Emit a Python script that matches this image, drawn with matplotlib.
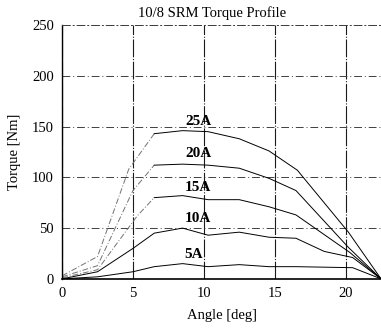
import matplotlib
matplotlib.use('Agg')
import matplotlib.pyplot as plt

x_25 = [0, 2.5, 4.7, 6.5, 8.5, 10.3, 12.5, 14.6, 16.6, 20.2, 22.5]
t_25 = [3, 22, 108, 143, 146, 145, 138, 126, 107, 46, 0]
x_20 = [0, 2.5, 5.0, 6.5, 8.5, 10.3, 12.5, 14.6, 16.5, 20.2, 22.5]
t_20 = [2, 13, 87, 112, 113, 112, 109, 99, 87, 31, 0]
x_15 = [0, 2.5, 5.3, 6.5, 8.5, 10.3, 12.5, 14.6, 16.5, 20.3, 22.5]
t_15 = [1, 9, 62, 80, 82, 78, 78, 71, 63, 26, 0]
x_10 = [0, 2.5, 5.0, 6.5, 8.5, 10.3, 12.5, 14.6, 16.5, 18.5, 20.5, 22.5]
t_10 = [0, 7, 30, 45, 50, 43, 46, 41, 40, 27, 21, 0]
x_5 = [0, 2.5, 5.0, 6.5, 8.5, 10.3, 12.5, 14.6, 16.5, 20.5, 22.5]
t_5 = [0, 2, 7, 12, 15, 12, 14, 12, 12, 11, 0]

labels = ['25A', '20A', '15A', '10A', '5A']
label_x = [9.6, 9.6, 9.6, 9.6, 9.3]
label_y = [155, 123, 90, 59, 24]

xticks = [0, 5, 10, 15, 20]
yticks = [0, 50, 100, 150, 200, 250]

plt.rcParams['font.family'] = ['Liberation Serif', 'DejaVu Serif']

fig = plt.figure(figsize=(3.81, 3.30), dpi=100)
ax = fig.add_axes([0.163, 0.155, 0.837, 0.769])

curves = [(x_25, t_25, True), (x_20, t_20, True), (x_15, t_15, True),
          (x_10, t_10, False), (x_5, t_5, False)]
for xs, ts, faint in curves:
    if faint:
        # rising part looks broken/light in the scan
        ax.plot(xs[:4], ts[:4], color='0.45', lw=0.7, linestyle=(0, (6, 2, 1, 2)))
        ax.plot(xs[3:], ts[3:], color='black', lw=0.7)
    else:
        ax.plot(xs, ts, color='black', lw=0.7)

for lab, lx, ly in zip(labels, label_x, label_y):
    ax.text(lx, ly, lab, ha='center', va='center', fontsize=11, fontweight='bold')

ax.set_xlim(0, 22.5)
ax.set_ylim(0, 250)
ax.set_xticks(xticks)
ax.set_yticks(yticks)
ax.tick_params(length=0, labelsize=10.5, pad=6)
ax.grid(True, axis='x', color='0.1', lw=0.8, linestyle=(0, (16, 1.5, 1, 1.5)))
ax.grid(True, axis='y', color='0.25', lw=0.7, linestyle=(0, (8, 3, 1, 3)))
ax.spines['right'].set_visible(False)
ax.spines['top'].set_linestyle((0, (8, 3, 1, 3)))
ax.spines['top'].set_linewidth(0.7)
ax.spines['top'].set_color('0.25')
ax.spines['left'].set_linewidth(1.0)
ax.spines['bottom'].set_linewidth(1.2)

ax.set_title('10/8 SRM Torque Profile', fontsize=10.5, pad=6, x=0.47)
ax.set_xlabel('Angle [deg]', fontsize=10.5, labelpad=6)
ax.set_ylabel('Torque [Nm]', fontsize=10.5, labelpad=8)

fig.savefig('out.png', dpi=100)
